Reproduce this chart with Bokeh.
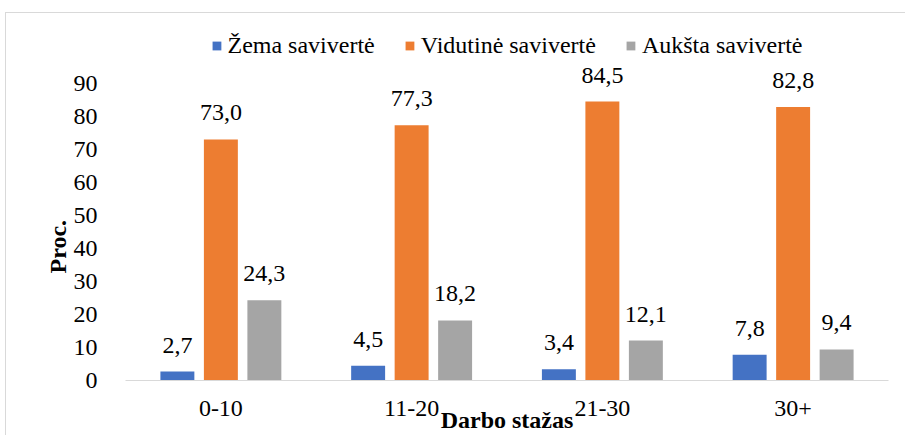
from bokeh.plotting import figure
from bokeh.models import (ColumnDataSource, FactorRange, Range1d, Legend, LegendItem,
                          FixedTicker, Title)
from bokeh.transform import dodge
from bokeh.embed import file_html
from bokeh.resources import INLINE

categories = ["0-10", "11-20", "21-30", "30+"]
zema = [2.7, 4.5, 3.4, 7.8]
vidutine = [73.0, 77.3, 84.5, 82.8]
auksta = [24.3, 18.2, 12.1, 9.4]
series_names = ["Žema savivertė", "Vidutinė savivertė", "Aukšta savivertė"]
y_ticks = [0, 10, 20, 30, 40, 50, 60, 70, 80, 90]
x_title = "Darbo stažas"
y_title = "Proc."

colors = ["#4472C4", "#ED7D31", "#A5A5A5"]
FONT = "Liberation Serif"
FS = "24px"

def fmt(vals):
    return [f"{v:.1f}".replace(".", ",") for v in vals]

source = ColumnDataSource(dict(
    cat=categories, zema=zema, vidutine=vidutine, auksta=auksta,
    zema_l=fmt(zema), vidutine_l=fmt(vidutine), auksta_l=fmt(auksta),
))

# frame extends above the 90 line so that the legend sits inside it
y_top = 90 * (381 - 28) / (381 - 83)

p = figure(x_range=FactorRange(*categories, range_padding=0), y_range=Range1d(0, y_top),
           width=907, height=435, output_backend="svg", toolbar_location=None,
           min_border_left=125, min_border_right=19, min_border_top=28, min_border_bottom=54)
p.outline_line_color = None
p.background_fill_color = "white"
p.border_fill_color = "white"
p.border_fill_alpha = 0
p.xgrid.grid_line_color = None
p.ygrid.grid_line_color = None
# light grey chart-area border (top and left edges) drawn as the page background
p.styles = {"background": "linear-gradient(#d9d9d9, #d9d9d9) 5px 12px / 1px 423px no-repeat, "
                          "linear-gradient(#d9d9d9, #d9d9d9) 5px 12px / 900px 1px no-repeat, #ffffff"}

offsets = [-0.228, 0.0, 0.228]
fields = ["zema", "vidutine", "auksta"]
items = []
for off, f, c, name in zip(offsets, fields, colors, series_names):
    r = p.vbar(x=dodge("cat", off, range=p.x_range), top=f, width=0.178, source=source,
               fill_color=c, line_color=None)
    items.append(LegendItem(label=name, renderers=[r]))
    p.text(x=dodge("cat", off, range=p.x_range), y=f, text=f + "_l", source=source,
           text_align="center", text_baseline="bottom", y_offset=-19,
           text_font=FONT, text_font_size=FS, text_color="#000000")

legend = Legend(items=items, orientation="horizontal", location="top_center",
                label_text_font=FONT, label_text_font_size=FS, label_text_color="#000000",
                glyph_width=11, glyph_height=11, label_standoff=6, spacing=29,
                border_line_color=None, background_fill_alpha=0, padding=0, margin=4)
p.add_layout(legend, "center")

p.yaxis.ticker = FixedTicker(ticks=y_ticks)
p.yaxis.axis_line_color = None
p.yaxis.major_tick_line_color = None
p.yaxis.minor_tick_line_color = None
p.yaxis.major_label_standoff = 22
p.yaxis.major_label_text_font = FONT
p.yaxis.major_label_text_font_size = FS
p.yaxis.major_label_text_color = "#000000"

p.xaxis.axis_line_color = "#d9d9d9"
p.xaxis.axis_line_width = 1
p.xaxis.major_tick_line_color = None
p.xaxis.minor_tick_line_color = None
p.xaxis.major_label_standoff = 14
p.xaxis.major_label_text_font = FONT
p.xaxis.major_label_text_font_size = FS
p.xaxis.major_label_text_color = "#000000"
p.xaxis.axis_label = x_title
p.xaxis.axis_label_standoff = -12
p.xaxis.axis_label_text_font = FONT
p.xaxis.axis_label_text_font_size = FS
p.xaxis.axis_label_text_font_style = "bold"
p.xaxis.axis_label_text_color = "#000000"

ytitle = Title(text=y_title, align="left", offset=107, standoff=0,
               text_font=FONT, text_font_size=FS, text_font_style="bold",
               text_color="#000000")
p.add_layout(ytitle, "left")

open("out.html", "w").write(file_html(p, INLINE))
